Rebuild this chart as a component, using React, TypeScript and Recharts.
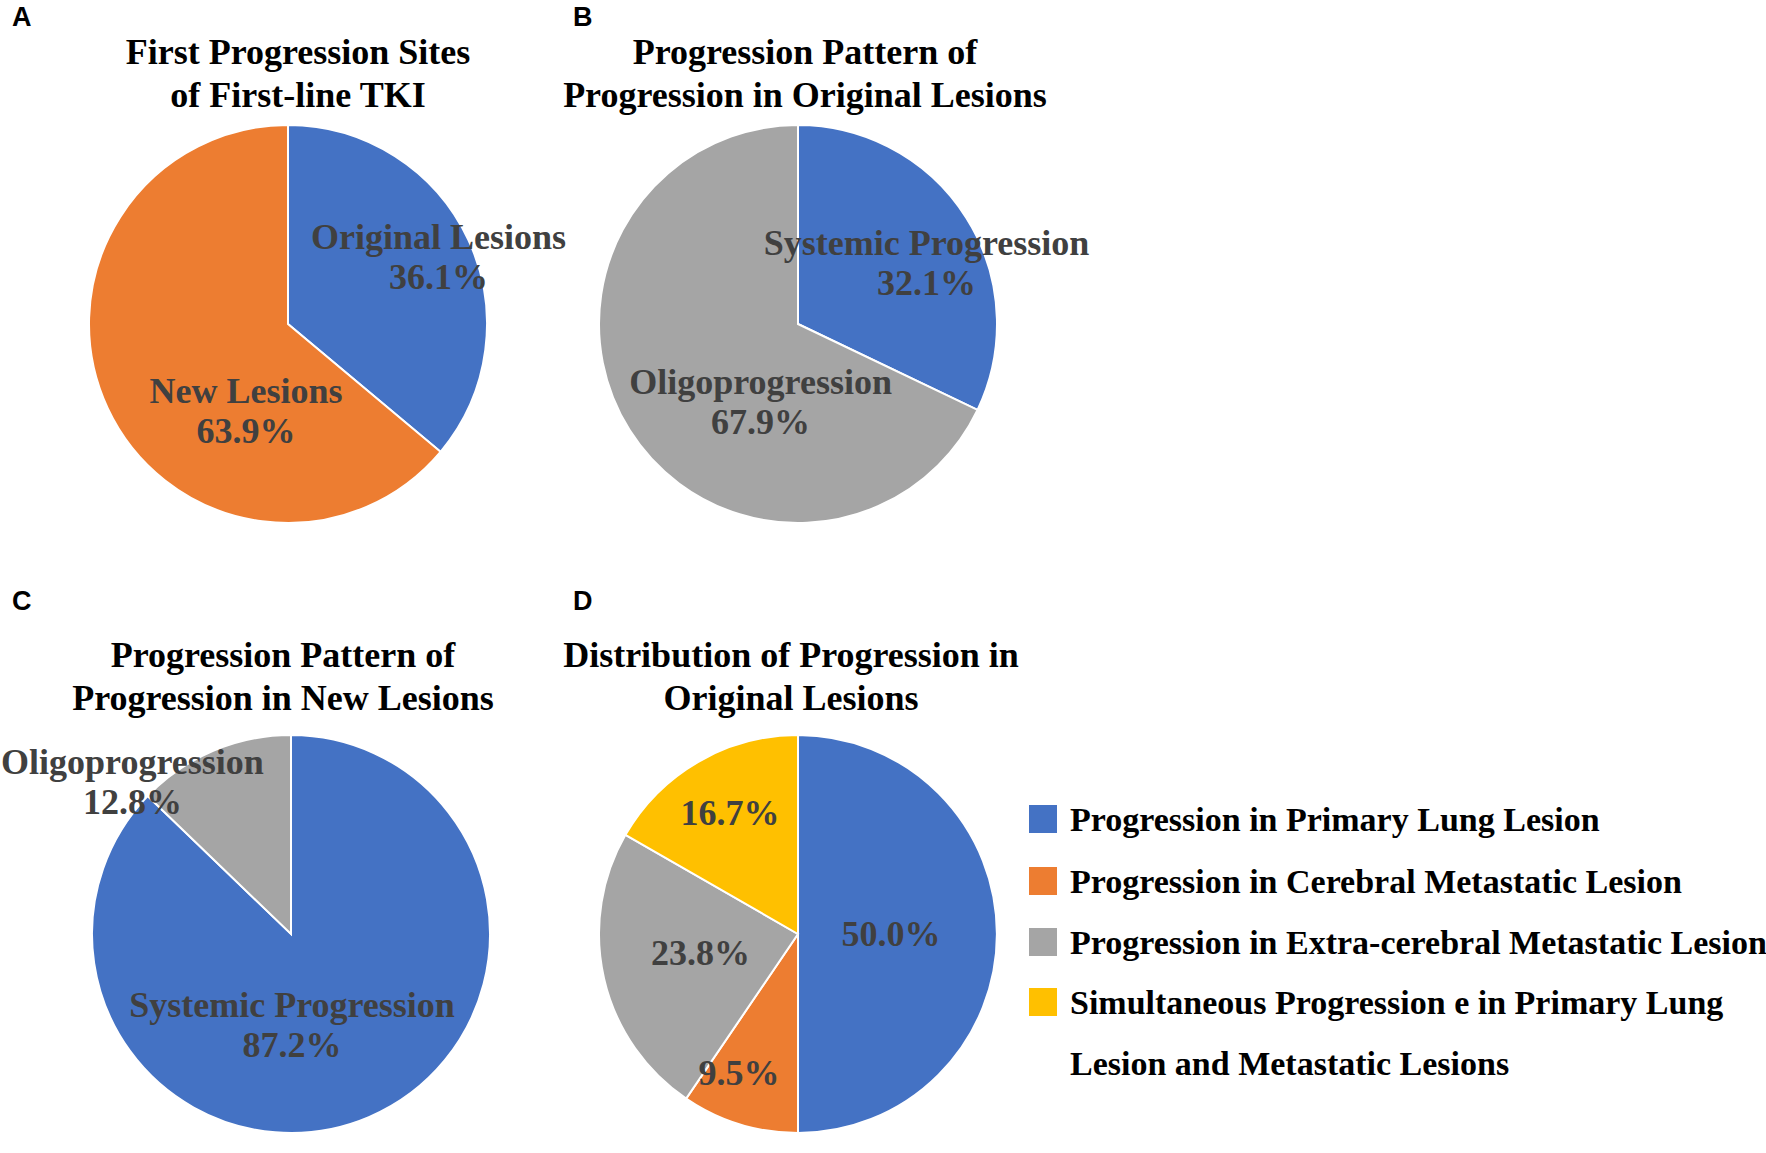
import { PieChart, Pie, Cell } from 'recharts'

const W = 1766
const H = 1153
const serif = '"Times New Roman", "Liberation Serif", serif'
const sans = 'Arial, "Liberation Sans", sans-serif'

const BLUE = '#4472C4'
const ORANGE = '#ED7D31'
const GRAY = '#A5A5A5'
const YELLOW = '#FFC000'

// panel A
const aNames = ['Original Lesions', 'New Lesions']
const aValues = [36.1, 63.9]
// panel B
const bNames = ['Systemic Progression', 'Oligoprogression']
const bValues = [32.1, 67.9]
// panel C
const cNames = ['Systemic Progression', 'Oligoprogression']
const cValues = [87.2, 12.8]
// panel D
const dNames = [
  'Progression in Primary Lung Lesion',
  'Progression in Cerebral Metastatic Lesion',
  'Progression in Extra-cerebral Metastatic Lesion',
  'Simultaneous Progression e in Primary Lung\nLesion and Metastatic Lesions',
]
const dValues = [50.0, 9.5, 23.8, 16.7]

const toRows = (names: string[], values: number[]) =>
  names.map((name, i) => ({ name, value: values[i] }))

type Panel = {
  letter: string
  lx: number
  ly: number
  title: string[]
  tx: number
  ty: number
  cx: number
  cy: number
  data: { name: string; value: number }[]
  colors: string[]
  // label centre, as fraction of radius from pie centre
  offsets: [number, number][]
  showName: boolean
}

const panels: Panel[] = [
  {
    letter: 'A', lx: 12, ly: 17,
    title: ['First Progression Sites', 'of First-line TKI'], tx: 298, ty: 52,
    cx: 288, cy: 324,
    data: toRows(aNames, aValues),
    colors: [BLUE, ORANGE],
    offsets: [[0.756, -0.337], [-0.211, 0.437]],
    showName: true,
  },
  {
    letter: 'B', lx: 573, ly: 17,
    title: ['Progression Pattern of', 'Progression in Original Lesions'], tx: 805, ty: 52,
    cx: 798, cy: 324,
    data: toRows(bNames, bValues),
    colors: [BLUE, GRAY],
    offsets: [[0.646, -0.307], [-0.188, 0.392]],
    showName: true,
  },
  {
    letter: 'C', lx: 12, ly: 601,
    title: ['Progression Pattern of', 'Progression in New Lesions'], tx: 283, ty: 655,
    cx: 291, cy: 934,
    data: toRows(cNames, cValues),
    colors: [BLUE, GRAY],
    offsets: [[0.005, 0.457], [-0.797, -0.764]],
    showName: true,
  },
  {
    letter: 'D', lx: 573, ly: 601,
    title: ['Distribution of Progression in', 'Original Lesions'], tx: 791, ty: 655,
    cx: 798, cy: 934,
    data: toRows(dNames, dValues),
    colors: [BLUE, ORANGE, GRAY, YELLOW],
    offsets: [[0.467, 0], [-0.296, 0.7], [-0.49, 0.093], [-0.342, -0.61]],
    showName: false,
  },
]

const R = 199

const makeLabel = (p: Panel) => (props: any) => {
  const { index, value } = props
  const [fx, fy] = p.offsets[index]
  const x = p.cx + fx * R
  const y = p.cy + fy * R
  const pct = `${Number(value).toFixed(1)}%`
  const common = {
    x,
    textAnchor: 'middle' as const,
    dominantBaseline: 'central' as const,
    fill: '#404040',
    fontFamily: serif,
    fontWeight: 700,
    fontSize: 36,
  }
  if (!p.showName) {
    return <text key={`l${index}`} {...common} y={y}>{pct}</text>
  }
  return (
    <g key={`l${index}`}>
      <text {...common} y={y - 20}>{props.name}</text>
      <text {...common} y={y + 20}>{pct}</text>
    </g>
  )
}

const legendY = [819, 881, 942, 1002]

export default function App() {
  return (
    <div style={{ position: 'absolute', left: 0, top: 0, width: W, height: H, background: '#fff' }}>
      <div style={{ position: 'absolute', left: 0, top: 0 }}>
        <PieChart width={W} height={H} margin={{ top: 0, right: 0, bottom: 0, left: 0 }}>
          {panels.map((p) => (
            <Pie
              key={p.letter}
              data={p.data}
              dataKey="value"
              nameKey="name"
              cx={p.cx}
              cy={p.cy}
              outerRadius={R}
              startAngle={90}
              endAngle={-270}
              stroke="#fff"
              strokeWidth={2}
              label={makeLabel(p)}
              labelLine={false}
              isAnimationActive={false}
            >
              {p.data.map((d, i) => (
                <Cell key={d.name} fill={p.colors[i]} />
              ))}
            </Pie>
          ))}
        </PieChart>
      </div>
      <svg width={W} height={H} style={{ position: 'absolute', left: 0, top: 0, pointerEvents: 'none' }}>
        {panels.map((p) => (
          <g key={p.letter}>
            <text x={p.lx} y={p.ly} dominantBaseline="central" fontFamily={sans} fontWeight={700} fontSize={27} fill="#000">
              {p.letter}
            </text>
            {p.title.map((line, i) => (
              <text
                key={line}
                x={p.tx}
                y={p.ty + i * 43}
                textAnchor="middle"
                dominantBaseline="central"
                fontFamily={serif}
                fontWeight={700}
                fontSize={36}
                fill="#000"
              >
                {line}
              </text>
            ))}
          </g>
        ))}
        {dNames.map((name, i) => (
          <g key={name}>
            <rect x={1029} y={legendY[i] - 14} width={28} height={28} fill={panels[3].colors[i]} />
            {name.split('\n').map((line, j) => (
              <text
                key={line}
                x={1070}
                y={legendY[i] + j * 61}
                dominantBaseline="central"
                fontFamily={serif}
                fontWeight={700}
                fontSize={34}
                fill="#000"
              >
                {line}
              </text>
            ))}
          </g>
        ))}
      </svg>
    </div>
  )
}
